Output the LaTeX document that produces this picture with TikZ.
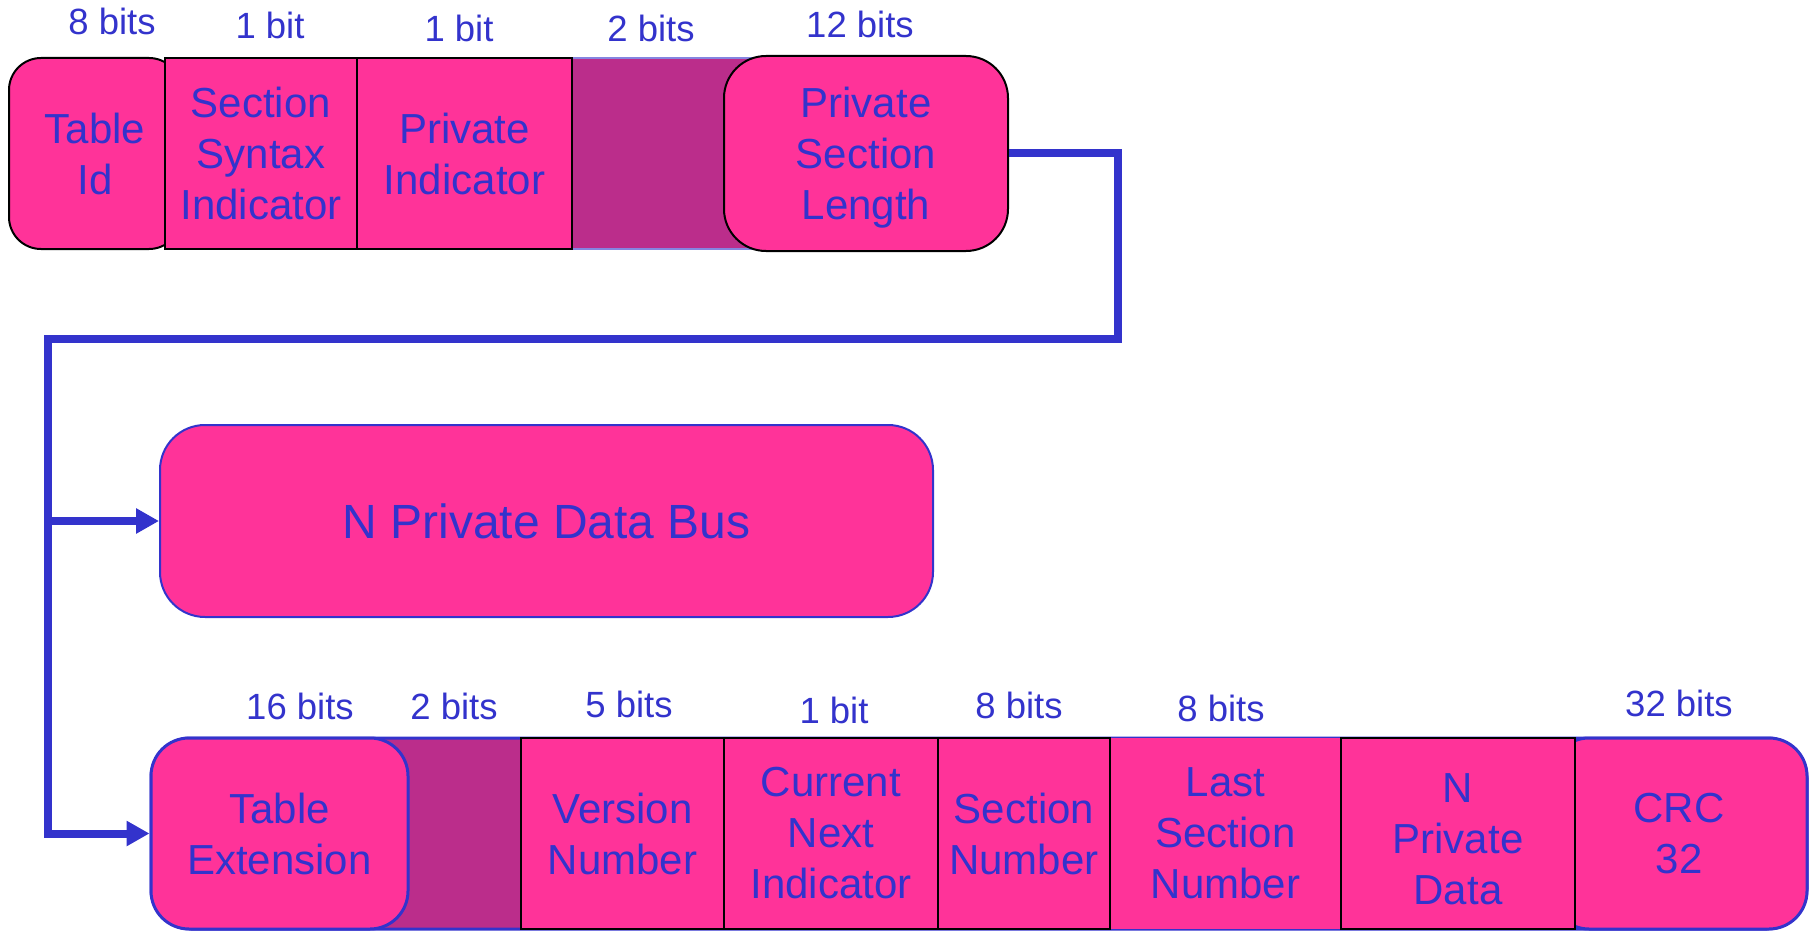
\documentclass[tikz,border=0pt]{standalone}
\usepackage{fontspec}
\setmainfont{Liberation Sans}
\usetikzlibrary{positioning, arrows.meta}

\definecolor{fieldpink}{RGB}{255,51,153}
\definecolor{fieldplum}{RGB}{187,45,139}
\definecolor{fieldblue}{RGB}{51,51,204}

\begin{document}
\begin{tikzpicture}[x=1pt,y=-1pt,
  field/.style={draw=black, line width=2pt, fill=fieldpink, text=fieldblue, inner sep=0pt, align=center,
    minimum height=191pt, font=\fontsize{42}{51}\selectfont},
  roundfield/.style={field, rounded corners=38pt},
  bits/.style={text=fieldblue, inner sep=0pt, font=\fontsize{36.5}{40}\selectfont},
  link/.style={draw=fieldblue, line width=8pt, -{Triangle[length=23pt,width=24pt]}}
]
\useasboundingbox (0,0) rectangle (1816,931);

\draw [fill=fieldplum, draw=fieldblue!60, line width=1.5pt] (170,58) rectangle (900,249);

\node[roundfield, rounded corners=32pt, minimum width=172pt] (tableid) at (95,153.5) {Table\\Id};
\node[field, minimum width=192pt] (syntax) at (261,153.5) {Section\\Syntax\\Indicator};
\node[field, minimum width=215pt] (private) at (464.5,153.5) {Private\\Indicator};
\node[roundfield, rounded corners=42pt, minimum width=284pt, minimum height=195pt, text depth=0pt] (length) at (866,153.5) {Private\\Section\\Length};

\node[bits] (tableidbits) at (112,21) {8 bits};
\node[bits] (syntaxbits) at (270,25) {1 bit};
\node[bits] (privatebits) at (459,28) {1 bit};
\node[bits] (reservedbits) at (651,28) {2 bits};
\node[bits] (lengthbits) at (860,24) {12 bits};

\node[roundfield, draw=fieldblue, minimum width=773pt, minimum height=192pt, rounded corners=45pt,
  font=\fontsize{48}{56}\selectfont] (bus) at (546.5,521) {N Private Data Bus};

\draw [fill=fieldplum, draw=fieldblue, line width=3pt, rounded corners=40pt] (151,738) rectangle (1807,929);

\node[roundfield, draw=fieldblue, line width=3pt, minimum width=257pt] (extension) at (279.5,833.5) {Table\\Extension};
\node[field, draw=none, minimum width=231pt] (lastsec) at (1225.5,833.5) {Last\\Section\\Number};
\node[field, minimum width=203pt] (version) at (622.5,833.5) {Version\\Number};
\node[field, minimum width=214pt] (current) at (831,833.5) {Current\\Next\\Indicator};
\node[field, minimum width=172pt] (secnum) at (1024,833.5) {Section\\Number};
\node[roundfield, draw=fieldblue, line width=3pt, minimum width=256pt] (crc) at (1679,833.5) {CRC\\32};
\node[field, minimum width=234pt] (privdata) at (1458,833.5) {\rule{0pt}{40pt}N\\Private\\Data};

\node[bits] (extensionbits) at (300,706) {16 bits};
\node[bits] (reservedbits2) at (454,706) {2 bits};
\node[bits] (versionbits) at (629,704) {5 bits};
\node[bits] (currentbits) at (834,710) {1 bit};
\node[bits] (secnumbits) at (1019,705) {8 bits};
\node[bits] (lastsecbits) at (1221,708) {8 bits};
\node[bits] (crcbits) at (1679,703) {32 bits};

\coordinate (turn) at (1118,339);
\coordinate (drop) at (48,339);
\draw[link] (length.east) -| (turn) -- (drop) |- (extension.west);
\draw[link] (drop |- bus.west) -- (bus.west);
\end{tikzpicture}
\end{document}
